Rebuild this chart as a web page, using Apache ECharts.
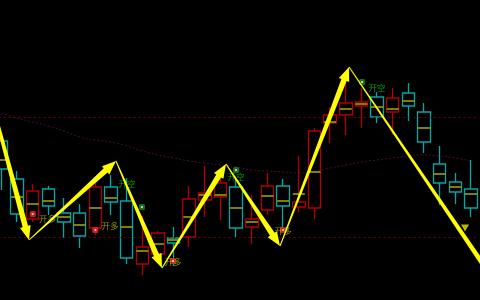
<!DOCTYPE html>
<html>
<head>
<meta charset="utf-8">
<script src="https://cdn.jsdelivr.net/npm/echarts@6/dist/echarts.min.js"></script>
<style>html,body{margin:0;padding:0;background:#000;}#c{width:480px;height:300px;}</style>
</head>
<body>
<div id="c"></div>
<script>
// ---- data (price units are arbitrary) ----
const categories = Array.from({length: 31}, (_, i) => 'K' + (i + 1));
const opens  = [159,121, 81,111, 87, 87, 72,113, 99, 36, 46, 62, 63,100,103,113, 73, 90,114, 93, 92,177,185,194,203,188,207,188,136,118,111];
const closes = [131, 86,109, 94, 78, 64,113, 98, 42, 53, 67, 57,101,107,117, 72, 81,114, 94, 98,169,185,197,198,183,202,194,158,117,108, 92];
const lows   = [110, 78, 78, 85, 62, 52, 65, 85, 36, 25, 42, 34, 53, 83, 80, 63, 56, 85, 72, 88, 81,157,165,172,177,165,179,147, 95, 96, 83];
const highs  = [165,129,116,114,102, 96,117,125,122, 84, 69, 73,114,134,124,122,105,127,121,144,172,193,220,212,208,212,217,197,154,127,140];
const mids   = [140,103, 96, 99, 83, 75, 92,102, 73, 49, 56, 60, 83,105,105, 92, 78,104, 99,106,128,178,191,196,193,191,199,172,126,113,106];
const maLine = [187,182,178,174,169,163,160,158,154,149,145,142,139,137,135,133,130,129,128,127,129,132,135,138,140,142,144,145,144,142,139];
const levels = [183, 63];
// zigzag pivots (x in bar-index units, y in price units)
const zigX = [-2, 1.76, 7.32, 10.26, 14.35, 17.8, 22.21, 33.1];
const zigY = [279, 60, 139, 32, 136, 54, 233, -18];
// signal markers
const buyX = [2, 6, 10.96, 17.99];
const buyY = [86, 70, 39, 70];
const sellX = [8.98, 14.99, 23.04];
const sellY = [93, 130, 218];
const warnX = [29.62];
const warnY = [72];
// text labels
const labelX = [2.95, 6.94, 8.02, 10.96, 14.99, 17.99, 24.0];
const labelY = [81, 74, 116, 38, 123, 69, 212];
const labelText = ['开多', '开多', '开空', '开多', '开空', '开多', '开空'];

// ---- build ----
const kData = opens.map((o, i) => [o, closes[i], lows[i], highs[i]]);
const segs = zigX.slice(0, -1).map((x, i) => [x, zigY[i], zigX[i + 1], zigY[i + 1]]);
const labelData = labelX.map((x, i) => ({
  value: [x, labelY[i]], name: labelText[i],
  label: {color: labelText[i] === '开多' ? '#b4b400' : '#00c800'}
}));

function arrowItem(params, api) {
  const p0 = api.coord([api.value(0), api.value(1)]);
  const p1 = api.coord([api.value(2), api.value(3)]);
  const dx = p1[0] - p0[0], dy = p1[1] - p0[1];
  const len = Math.sqrt(dx * dx + dy * dy);
  const ux = dx / len, uy = dy / len, nx = -uy, ny = ux;
  const headLen = 14, headW = 5.5, w0 = 0.5, w1 = 2.8;
  const bx = p1[0] - ux * headLen, by = p1[1] - uy * headLen;
  const pts = [
    [p0[0] + nx * w0, p0[1] + ny * w0],
    [bx + nx * w1, by + ny * w1],
    [bx + nx * headW, by + ny * headW],
    [p1[0], p1[1]],
    [bx - nx * headW, by - ny * headW],
    [bx - nx * w1, by - ny * w1],
    [p0[0] - nx * w0, p0[1] - ny * w0]
  ];
  return {type: 'polygon', shape: {points: pts}, style: {fill: '#ffff00'}};
}

const chart = echarts.init(document.getElementById('c'), null, {renderer: 'canvas'});
chart.setOption({
  backgroundColor: '#000000',
  animation: false,
  grid: {left: -6.4, right: 1.2, top: 0, bottom: 0, outerBoundsMode: 'none', containLabel: false},
  xAxis: [
    {type: 'category', data: categories, show: false, boundaryGap: true},
    {type: 'value', min: -0.5, max: 30.5, show: false}
  ],
  yAxis: {type: 'value', min: 0, max: 300, show: false, splitLine: {show: false}},
  series: [
    {
      type: 'line', data: maLine, xAxisIndex: 0, smooth: true, symbol: 'none', z: 1,
      lineStyle: {color: '#4c0c3c', width: 1, type: [2, 2]},
      markLine: {
        silent: true, symbol: 'none', label: {show: false},
        lineStyle: {color: '#700000', width: 1, type: [2, 3]},
        data: levels.map(v => ({yAxis: v}))
      }
    },
    {
      type: 'candlestick', data: kData, xAxisIndex: 0, barWidth: 13, z: 2,
      itemStyle: {
        color: 'rgba(0,0,0,0)', color0: 'rgba(0,0,0,0)',
        borderColor: '#b00000', borderColor0: '#00a8a8', borderWidth: 1.3
      }
    },
    {
      type: 'scatter', data: mids, xAxisIndex: 0, symbol: 'rect', symbolSize: [12, 2], z: 3,
      itemStyle: {color: '#a0a000'}
    },
    {
      type: 'scatter', xAxisIndex: 1, symbol: 'roundRect', symbolSize: 6, z: 4,
      data: buyX.map((x, i) => [x, buyY[i]]), itemStyle: {color: '#ff2020'}
    },
    {
      type: 'scatter', xAxisIndex: 1, symbol: 'roundRect', symbolSize: 6, z: 4,
      data: sellX.map((x, i) => [x, sellY[i]]), itemStyle: {color: '#208c20'}
    },
    {
      type: 'scatter', xAxisIndex: 1, symbol: 'circle', symbolSize: 2.2, z: 5,
      data: buyX.map((x, i) => [x, buyY[i]]).concat(sellX.map((x, i) => [x, sellY[i]])),
      itemStyle: {color: '#ffffff'}
    },
    {
      type: 'scatter', xAxisIndex: 1, symbol: 'triangle', symbolRotate: 180, symbolSize: [8, 7], z: 4,
      data: warnX.map((x, i) => [x, warnY[i]]), itemStyle: {color: '#e8e800'}
    },
    {
      type: 'scatter', xAxisIndex: 1, symbolSize: 0, z: 6, data: labelData,
      label: {show: true, position: 'inside', formatter: '{b}', fontSize: 8.5,
              fontFamily: 'Noto Sans CJK SC'}
    },
    {
      type: 'custom', xAxisIndex: 1, renderItem: arrowItem, data: segs, z: 10,
      encode: {x: [0, 2], y: [1, 3]}
    }
  ]
});
</script>
</body>
</html>
